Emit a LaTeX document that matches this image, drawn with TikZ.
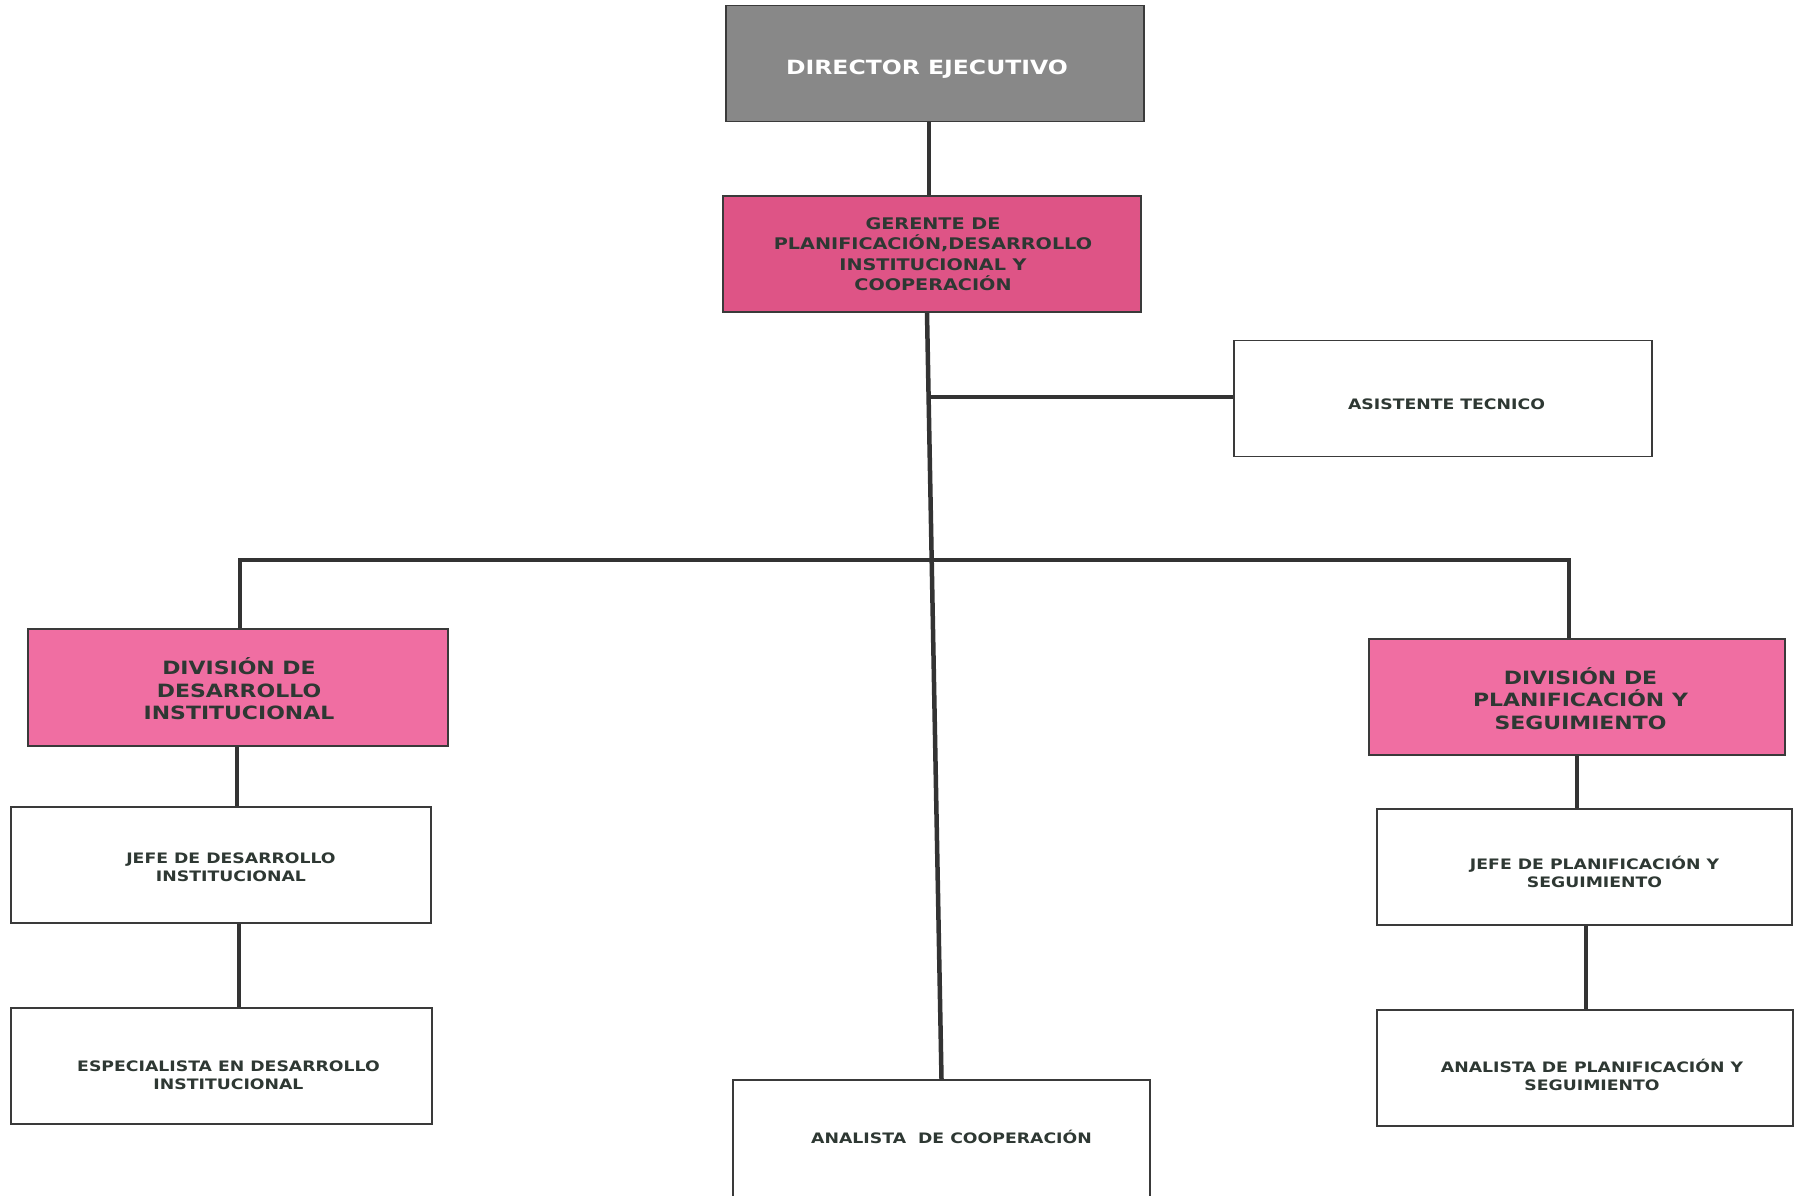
\documentclass[tikz,border=0pt]{standalone}
\usepackage{fontspec}
\setmainfont{DejaVu Sans}[FakeStretch=1.2]
\definecolor{boxline}{HTML}{3A3A3A}
\definecolor{conn}{HTML}{333333}
\definecolor{txt}{HTML}{2E3833}
\definecolor{dirgray}{HTML}{888888}
\definecolor{gerpink}{HTML}{DE5486}
\definecolor{divpink}{HTML}{F06EA2}
\begin{document}
\begin{tikzpicture}[x=1pt,y=-1pt,
  box/.style={draw=boxline, line width=1.8pt, inner sep=0pt, minimum height=116pt},
  wbox/.style={box, fill=white, minimum width=418pt},
  lbl/.style={align=center, inner sep=0pt, text=txt},
  small/.style={lbl, font=\bfseries\fontsize{14.4}{18.4}\selectfont},
  divtext/.style={lbl, font=\bfseries\fontsize{18.3}{22.4}\selectfont},
  link/.style={draw=conn, line width=4.5pt}]
\useasboundingbox (0,0) rectangle (1801,1195);
\fill[white] (0,0) rectangle (1801,1195);
% boxes
\node[box, fill=dirgray, minimum width=418pt] (dir) at (935,63.5) {};
\node[box, fill=gerpink, minimum width=418pt] (ger) at (932,254) {};
\node[wbox] (asis) at (1443,398.5) {};
\node[box, fill=divpink, minimum width=420pt, minimum height=117pt] (divdi) at (238,687.5) {};
\node[box, fill=divpink, minimum width=416pt] (divps) at (1577,697) {};
\node[wbox, minimum width=420pt] (jefedi) at (221,865) {};
\node[wbox, minimum width=421pt] (esp) at (221.5,1066) {};
\node[wbox, minimum width=415pt] (jefeps) at (1584.5,867) {};
\node[wbox, minimum width=416pt] (anps) at (1585,1068) {};
\node[wbox, minimum width=417pt, minimum height=118pt] (ancoop) at (941.5,1139) {};
% texts
\node[lbl, text=white, font=\bfseries\fontsize{19.6}{22}\selectfont] (dirt) at ([shift={(-8,6)}]dir.center) {DIRECTOR EJECUTIVO};
\node[lbl, font=\bfseries\fontsize{16}{20.5}\selectfont] (gert) at ([shift={(1,0)}]ger.center) {GERENTE DE\\PLANIFICACIÓN,DESARROLLO\\INSTITUCIONAL Y\\COOPERACIÓN};
\node[small] (asist) at ([shift={(3.5,6)}]asis.center) {ASISTENTE TECNICO};
\node[divtext] (divdit) at ([shift={(1,1.5)}]divdi.center) {DIVISIÓN DE\\DESARROLLO\\INSTITUCIONAL};
\node[divtext] (divpst) at ([shift={(3.5,1.5)}]divps.center) {DIVISIÓN DE\\PLANIFICACIÓN Y\\SEGUIMIENTO};
\node[small] (jefedit) at ([shift={(10,2)}]jefedi.center) {JEFE DE DESARROLLO\\INSTITUCIONAL};
\node[small] (espt) at ([shift={(7,9)}]esp.center) {ESPECIALISTA EN DESARROLLO\\INSTITUCIONAL};
\node[small] (jefepst) at ([shift={(10,5)}]jefeps.center) {JEFE DE PLANIFICACIÓN Y\\SEGUIMIENTO};
\node[small] (anpst) at ([shift={(7,7)}]anps.center) {ANALISTA DE PLANIFICACIÓN Y\\SEGUIMIENTO};
\node[small] (ancoopt) at ([shift={(10,-2)}]ancoop.center) {ANALISTA\ \ DE COOPERACIÓN};
% connectors
\draw[link] ([xshift=-6pt]dir.south) -- ([xshift=-3pt]ger.north);
\draw[link] ([xshift=-5pt]ger.south) -- (ancoop.north);
\coordinate (j1) at (929,397);
\coordinate (j2) at (932,560);
\draw[link] (j1) -- (asis.west |- j1);
\draw[link] ([xshift=2pt]divdi.north) |- (j2) -| ([xshift=-8pt]divps.north);
\draw[link] ([xshift=-1pt]divdi.south) -- ([xshift=16pt]jefedi.north);
\draw[link] ([xshift=18pt]jefedi.south) -- ([xshift=17.5pt]esp.north);
\draw[link] (divps.south) -- ([xshift=-7.5pt]jefeps.north);
\draw[link] ([xshift=1.5pt]jefeps.south) -- ([xshift=1pt]anps.north);
\end{tikzpicture}
\end{document}
